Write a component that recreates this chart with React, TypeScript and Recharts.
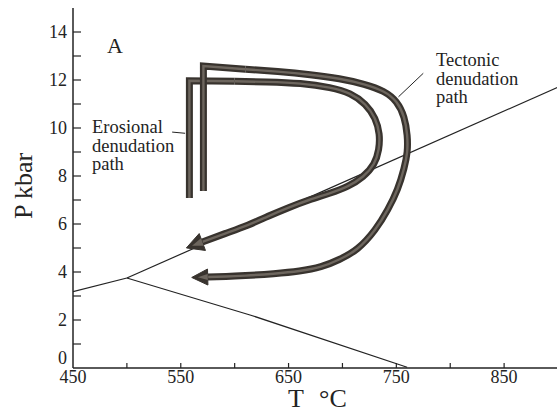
import React from 'react';
import { ComposedChart, Line, XAxis, YAxis } from 'recharts';

// axis ticks
const tempTicks = [450, 500, 550, 600, 650, 700, 750, 800, 850, 900];
const tempLabels = [450, 550, 650, 750, 850];
const presTicks = [0, 1, 2, 3, 4, 5, 6, 7, 8, 9, 10, 11, 12, 13, 14, 15];
const presLabels = [0, 2, 4, 6, 8, 10, 12, 14];

// thin reaction lines
const reactionLeft = [
  { t: 450, p: 3.18 },
  { t: 500, p: 3.75 },
];
const reactionUpper = [
  { t: 500, p: 3.75 },
  { t: 900, p: 11.7 },
];
const reactionLower = [
  { t: 500, p: 3.75 },
  { t: 615, p: 2.2 },
  { t: 760, p: 0.03 },
];

// inner (erosional) path
const erosionalLeg = [
  { t: 558, p: 7.08 },
  { t: 558, p: 11.97 },
  { t: 600, p: 11.95 },
];
const erosionalLoop = [
  { t: 600, p: 11.95 },
  { t: 630, p: 11.92 },
  { t: 661, p: 11.85 },
  { t: 688, p: 11.68 },
  { t: 707, p: 11.42 },
  { t: 721, p: 10.98 },
  { t: 730, p: 10.4 },
  { t: 734, p: 9.75 },
  { t: 733.5, p: 9.1 },
  { t: 729, p: 8.5 },
  { t: 719, p: 7.98 },
  { t: 705, p: 7.58 },
  { t: 688, p: 7.28 },
  { t: 669, p: 7.0 },
  { t: 650, p: 6.68 },
  { t: 631, p: 6.32 },
  { t: 612, p: 5.95 },
  { t: 591, p: 5.6 },
  { t: 570, p: 5.25 },
];

// outer (tectonic) path
const tectonicLeg = [
  { t: 571, p: 7.38 },
  { t: 571, p: 12.58 },
  { t: 610, p: 12.45 },
];
const tectonicLoop = [
  { t: 610, p: 12.45 },
  { t: 640, p: 12.35 },
  { t: 670, p: 12.22 },
  { t: 697, p: 12.05 },
  { t: 720, p: 11.82 },
  { t: 738, p: 11.52 },
  { t: 750, p: 11.08 },
  { t: 757, p: 10.45 },
  { t: 760, p: 9.7 },
  { t: 760, p: 9.0 },
  { t: 757, p: 8.3 },
  { t: 751, p: 7.45 },
  { t: 742, p: 6.6 },
  { t: 730, p: 5.75 },
  { t: 714, p: 4.98 },
  { t: 697, p: 4.52 },
  { t: 680, p: 4.22 },
  { t: 660, p: 4.04 },
  { t: 636, p: 3.93 },
  { t: 610, p: 3.85 },
  { t: 592, p: 3.81 },
  { t: 575, p: 3.79 },
];

// label leader lines
const erosionalLeader = [
  { t: 542, p: 9.83 },
  { t: 554, p: 9.78 },
];
const tectonicLeader = [
  { t: 775, p: 12.28 },
  { t: 752, p: 11.3 },
];

const INK = '#232323';
const BAND_DARK = '#38332e';
const BAND_LIGHT = '#6d665e';
const SERIF = '"Liberation Serif", "DejaVu Serif", serif';

const arrowHead = (count: number, len: number, half: number) => (props: any) => {
  const { cx, cy, index, points } = props;
  if (index !== count - 1 || cx == null) return <g key={`a-${index}`} />;
  let dx = -1;
  let dy = 0;
  if (points && points[index - 1]) {
    dx = cx - points[index - 1].x;
    dy = cy - points[index - 1].y;
    const n = Math.hypot(dx, dy) || 1;
    dx /= n;
    dy /= n;
  }
  const px = -dy;
  const py = dx;
  const tip = `${cx + dx * len},${cy + dy * len}`;
  const outer = `${tip} ${cx + px * half},${cy + py * half} ${cx - px * half},${cy - py * half}`;
  const inner = `${cx + dx * (len - 6)},${cy + dy * (len - 6)} ${cx + px * (half - 5)},${cy + py * (half - 5)} ${cx - px * (half - 5)},${cy - py * (half - 5)}`;
  return (
    <g key={`a-${index}`}>
      <polygon points={outer} fill={BAND_DARK} stroke={BAND_DARK} strokeLinejoin="round" strokeWidth={1} />
      <polygon points={inner} fill={BAND_LIGHT} />
    </g>
  );
};

const band = (id: string, data: any[], curve: 'linear' | 'natural', arrow?: [number, number]) => [
  <Line
    key={`${id}-d`}
    data={data}
    dataKey="p"
    type={curve}
    stroke={BAND_DARK}
    strokeWidth={7}
    strokeLinecap="butt"
    strokeLinejoin="miter"
    dot={false}
    activeDot={false}
    isAnimationActive={false}
  />,
  <Line
    key={`${id}-l`}
    data={data}
    dataKey="p"
    type={curve}
    stroke={BAND_LIGHT}
    strokeWidth={2.4}
    strokeLinecap="butt"
    strokeLinejoin="miter"
    dot={arrow ? arrowHead(data.length, arrow[0], arrow[1]) : false}
    activeDot={false}
    isAnimationActive={false}
  />,
];

const thin = (id: string, data: any[], w = 1.2) => (
  <Line
    key={id}
    data={data}
    dataKey="p"
    type="linear"
    stroke={INK}
    strokeWidth={w}
    dot={false}
    activeDot={false}
    isAnimationActive={false}
  />
);

const BottomTick = (props: any) => {
  const { x, y, payload } = props;
  const v = payload.value;
  return (
    <g>
      {v > 450 && v < 900 && <line x1={x} x2={x} y1={y} y2={y - 5} stroke={INK} strokeWidth={1.2} />}
      {tempLabels.includes(v) && (
        <text x={x} y={y + 15} textAnchor="middle" fontFamily={SERIF} fontSize={18} fill={INK}>
          {v}
        </text>
      )}
    </g>
  );
};

const TopTick = (props: any) => {
  const { x, y, payload } = props;
  const v = payload.value;
  if (v <= 450 || v >= 900) return <g />;
  return <line x1={x} x2={x} y1={y} y2={y + 7} stroke={INK} strokeWidth={1.2} />;
};

const LeftTick = (props: any) => {
  const { x, y, payload } = props;
  const v = payload.value;
  return (
    <g>
      {v > 0 && v < 15 && <line x1={x} x2={x + 8} y1={y} y2={y} stroke={INK} strokeWidth={1.2} />}
      {presLabels.includes(v) && (
        <text x={x - 6} y={v === 0 ? y - 4 : y + 6} textAnchor="end" fontFamily={SERIF} fontSize={18} fill={INK}>
          {v}
        </text>
      )}
    </g>
  );
};

const RightTick = (props: any) => {
  const { x, y, payload } = props;
  const v = payload.value;
  if (v <= 0 || v >= 15) return <g />;
  return <line x1={x} x2={x - 7} y1={y} y2={y} stroke={INK} strokeWidth={1.2} />;
};

export default function App() {
  return (
    <div style={{ position: 'absolute', left: 0, top: 0, width: 557, height: 414, background: '#fff', overflow: 'hidden' }}>
      <ComposedChart width={557} height={414} margin={{ top: 8, right: -1, bottom: 0, left: 0 }}>
        <XAxis
          xAxisId={0}
          type="number"
          dataKey="t"
          domain={[450, 900]}
          allowDataOverflow
          ticks={tempTicks}
          interval={0}
          height={46}
          tickSize={0}
          tickMargin={0}
          tickLine={false}
          tick={BottomTick}
          axisLine={{ stroke: INK, strokeWidth: 1.5 }}
        />
        <XAxis
          xAxisId="top"
          orientation="top"
          type="number"
          dataKey="t"
          domain={[450, 900]}
          allowDataOverflow
          ticks={tempTicks}
          interval={0}
          height={0}
          tickSize={0}
          tickMargin={0}
          tickLine={false}
          tick={TopTick}
          axisLine={{ stroke: INK, strokeWidth: 1.2 }}
        />
        <YAxis
          yAxisId={0}
          type="number"
          domain={[0, 15]}
          allowDataOverflow
          ticks={presTicks}
          interval={0}
          width={73}
          tickSize={0}
          tickMargin={0}
          tickLine={false}
          tick={LeftTick}
          axisLine={{ stroke: INK, strokeWidth: 1.5 }}
        />
        <YAxis
          yAxisId="right"
          orientation="right"
          type="number"
          domain={[0, 15]}
          allowDataOverflow
          ticks={presTicks}
          interval={0}
          width={0}
          tickSize={0}
          tickMargin={0}
          tickLine={false}
          tick={RightTick}
          axisLine={{ stroke: INK, strokeWidth: 1.2 }}
        />
        {thin('r-left', reactionLeft)}
        {thin('r-upper', reactionUpper)}
        {thin('r-lower', reactionLower)}
        {band('e-leg', erosionalLeg, 'linear')}
        {band('e-loop', erosionalLoop, 'natural', [17, 9])}
        {band('t-leg', tectonicLeg, 'linear')}
        {band('t-loop', tectonicLoop, 'natural', [16, 8])}
        {thin('l-eros', erosionalLeader, 1)}
        {thin('l-tect', tectonicLeader, 1)}
      </ComposedChart>
      <svg
        width={557}
        height={414}
        style={{ position: 'absolute', left: 0, top: 0, pointerEvents: 'none' }}
      >
        <g fontFamily={SERIF} fill={INK}>
          <text x={107} y={53} fontSize={22}>A</text>
          <text x={92} y={133} fontSize={18.5}>
            <tspan x={92}>Erosional</tspan>
            <tspan x={92} dy={18.5}>denudation</tspan>
            <tspan x={92} dy={18.5}>path</tspan>
          </text>
          <text x={436} y={66} fontSize={18.5}>
            <tspan x={436}>Tectonic</tspan>
            <tspan x={436} dy={18.5}>denudation</tspan>
            <tspan x={436} dy={18.5}>path</tspan>
          </text>
          <text transform="translate(32,186) rotate(-90)" textAnchor="middle" fontSize={26}>P kbar</text>
          <text y={407} fontSize={26}>
            <tspan x={288}>T</tspan>
            <tspan x={319}>°C</tspan>
          </text>
        </g>
      </svg>
    </div>
  );
}
